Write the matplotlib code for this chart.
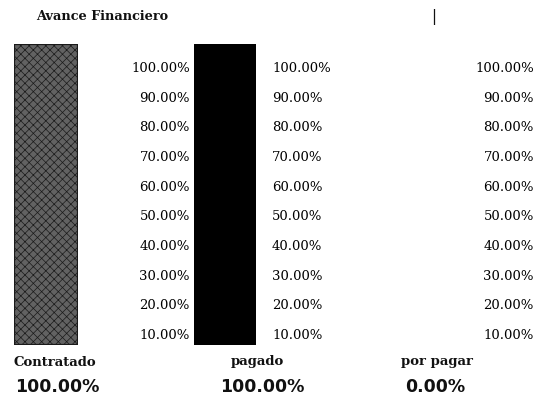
import matplotlib
matplotlib.use("Agg")
import matplotlib.pyplot as plt

W, H = 544, 403

title = "Avance Financiero"
categories = ["Contratado", "pagado", "por pagar"]
values = [1.00, 1.00, 0.00]
value_labels = ["100.00%", "100.00%", "0.00%"]
tick_values = [0.1, 0.2, 0.3, 0.4, 0.5, 0.6, 0.7, 0.8, 0.9, 1.0]
tick_labels = ["10.00%", "20.00%", "30.00%", "40.00%", "50.00%",
               "60.00%", "70.00%", "80.00%", "90.00%", "100.00%"]

fig = plt.figure(figsize=(W / 100, H / 100), dpi=100)
fig.patch.set_facecolor("white")


def ax_px(x0, y0, x1, y1):
    return fig.add_axes([x0 / W, 1 - y1 / H, (x1 - x0) / W, (y1 - y0) / H])


# bars
bar_px = [(14, 78), (194, 256), (380, 440)]
bar_styles = [
    dict(facecolor="#626262", edgecolor="#1a1a1a", hatch="xxxx", linewidth=1.6),
    dict(facecolor="#000000", edgecolor="#000000", linewidth=1.0),
    dict(facecolor="#000000", edgecolor="#000000", linewidth=1.0),
]
plt.rcParams["hatch.color"] = "#8e8e8e"
plt.rcParams["hatch.linewidth"] = 0.5
for (x0, x1), v, st in zip(bar_px, values, bar_styles):
    a = ax_px(x0, 44, x1, 345)
    a.set_xlim(-0.5, 0.5)
    a.set_ylim(0, 1)
    if v > 0:
        a.bar(0, v, width=1.0, **st)
    a.axis("off")

# tick label axes (label-only axes)
ylo, yhi = 0.063, 1.074
tick_axes = [(190, "left"), (272, "right"), (534, "left")]
for xp, side in tick_axes:
    if side == "left":
        a = ax_px(xp, 45, xp + 1, 345)
    else:
        a = ax_px(xp - 1, 45, xp, 345)
    a.set_ylim(ylo, yhi)
    a.set_xticks([])
    a.set_yticks(tick_values)
    a.set_yticklabels(tick_labels, fontfamily="DejaVu Serif", fontsize=9.5,
                      color="#000000")
    if side == "right":
        a.yaxis.tick_right()
    a.tick_params(axis="y", length=0, pad=0)
    for s in a.spines.values():
        s.set_visible(False)
    a.patch.set_alpha(0)

# title and marker
fig.text(36 / W, 1 - 17 / H, title, fontfamily="DejaVu Serif",
         fontweight="bold", fontsize=9.3, ha="left", va="center", color="#111111")
fig.text(434 / W, 1 - 17 / H, "|", fontfamily="DejaVu Sans",
         fontsize=11, ha="center", va="center", color="#111111")

# category names and values
cat_x = [(14, "left"), (257, "center"), (437, "center")]
val_x = [(15, "left"), (262, "center"), (435, "center")]
for (cx, cha), name in zip(cat_x, categories):
    fig.text(cx / W, 1 - 362 / H, name, fontfamily="DejaVu Serif",
             fontweight="bold", fontsize=9.5, ha=cha, va="center",
             color="#111111")
for (vx, vha), lab in zip(val_x, value_labels):
    fig.text(vx / W, 1 - 387 / H, lab, fontfamily="DejaVu Sans",
             fontweight="bold", fontsize=12.5, ha=vha, va="center",
             color="#111111")

fig.savefig("out.png", dpi=100, facecolor="white")
